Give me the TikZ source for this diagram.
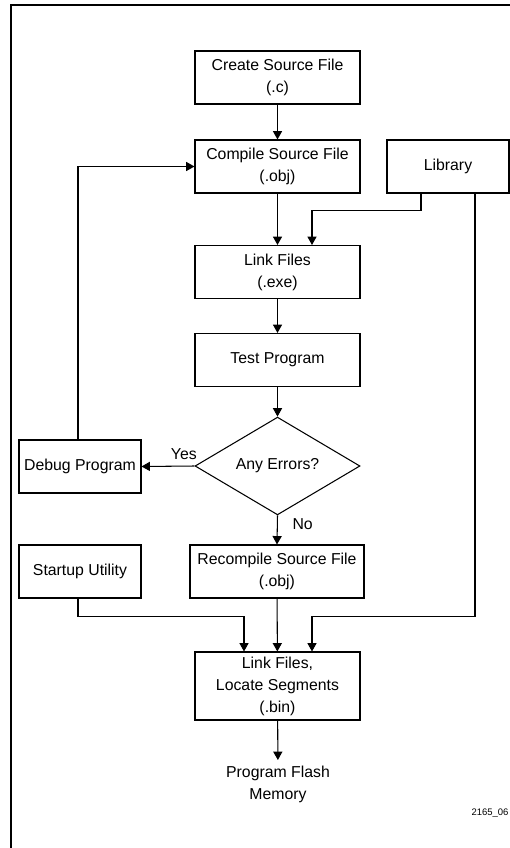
\documentclass[tikz,border=0pt]{standalone}
\usepackage{fontspec}
\setmainfont{Liberation Sans}
\usetikzlibrary{shapes.geometric, arrows.meta, positioning}

\tikzset{
  box/.style={draw, line width=0.6pt, minimum width=3.3cm, minimum height=1.06cm,
    align=center, inner sep=1pt, font=\fontsize{9}{12.5}\selectfont},
  sidebox/.style={box, minimum width=2.44cm},
  decision/.style={draw, line width=0.6pt, diamond, inner sep=0pt,
    minimum width=3.3cm, minimum height=1.76cm, font=\fontsize{9}{12.5}\selectfont},
  lbl/.style={font=\fontsize{9}{12.5}\selectfont},
}

\begin{document}
\begin{tikzpicture}[x=0.02cm, y=-0.02cm, line width=0.6pt,
    >={Triangle[length=4.8pt, width=5.2pt]}]
    \useasboundingbox (0,0) rectangle (510,848);
    \clip (0,0) rectangle (510,848);
    % Rahmen
    \draw[line width=1.1pt] (11,5) rectangle (540,880);

    % Kaesten
    \node[box] (create) at (277.5,77.5) {Create Source File\\(.c)};
    \node[box] (compile) at (277.5,166.5) {Compile Source File\\(.obj)};
    \node[sidebox] (library) at (448,166.5) {Library};
    \node[box] (link) at (277.5,272) {Link Files\\(.exe)};
    \node[box] (test) at (277.5,360) {Test Program};
    \node[decision] (errors) at (277.5,466) {Any Errors?};
    \node[sidebox] (debug) at (80,466.5) {Debug Program};
    \node[box, minimum width=3.48cm] (recompile) at (277,571.5) {Recompile Source File\\(.obj)};
    \node[sidebox] (startup) at (80,571.5) {Startup Utility};
    \node[box, minimum height=1.36cm] (locate) at (277.5,686) {Link Files,\\Locate Segments\\(.bin)};
    \node[lbl, align=center, anchor=north] (flash) at (278,760) {Program Flash\\Memory};
    \node[anchor=west, inner sep=0pt, font=\fontsize{5.4}{7}\selectfont] (tag) at (471,813) {2165\_06};

    % Verbindungen
    \draw[->] (create) -- (compile);
    \draw[->] (compile) -- (link);
    \draw[->] ([xshift=-0.54cm]library.south) -- ++(0,17) -| ([xshift=0.69cm]link.north);
    \draw[->] (link) -- (test);
    \draw[->] (test) -- (errors);
    \draw[->] (errors.west) -- (debug.east) node[lbl, pos=0.2, above] (yes) {Yes};
    \draw[->] ([xshift=-0.04cm]debug.north) |- (compile.west);
    \draw[->] (errors.south) -- (recompile.north) node[lbl, pos=0.3, right=5pt] (no) {No};
    \draw[->] ([xshift=-0.04cm]startup.south) -- ++(0,18) -| ([xshift=-0.67cm]locate.north);
    \draw[->] (recompile) -- (locate);
    \draw[->] ([xshift=0.54cm]library.south) -- ++(0,423) -| ([xshift=0.69cm]locate.north);
    \draw[->] (locate) -- (flash);
\end{tikzpicture}
\end{document}
